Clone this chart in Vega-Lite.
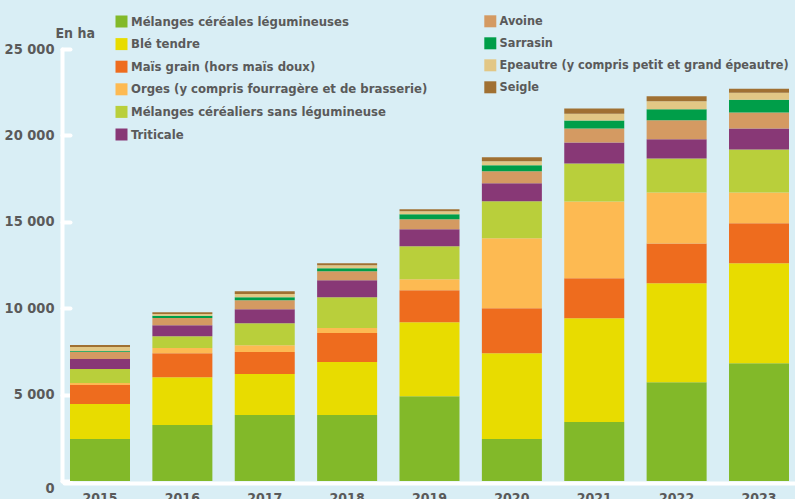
{
  "$schema": "https://vega.github.io/schema/vega-lite/v6.json",
  "width": 731,
  "height": 432,
  "autosize": {"type": "none"},
  "padding": {"left": 64, "top": 49, "right": 0, "bottom": 18},
  "background": "#d9eef5",
  "datasets": {
    "cultures": [
      {"culture": "Mélanges céréales légumineuses", "ordre": 1, "colonne": 1},
      {"culture": "Blé tendre", "ordre": 2, "colonne": 1},
      {"culture": "Maïs grain (hors maïs doux)", "ordre": 3, "colonne": 1},
      {"culture": "Orges (y compris fourragère et de brasserie)", "ordre": 4, "colonne": 1},
      {"culture": "Mélanges céréaliers sans légumineuse", "ordre": 5, "colonne": 1},
      {"culture": "Triticale", "ordre": 6, "colonne": 1},
      {"culture": "Avoine", "ordre": 7, "colonne": 2},
      {"culture": "Sarrasin", "ordre": 8, "colonne": 2},
      {"culture": "Epeautre (y compris petit et grand épeautre)", "ordre": 9, "colonne": 2},
      {"culture": "Seigle", "ordre": 10, "colonne": 2}
    ],
    "surfaces": [
      {"annee": "2015", "culture": "Mélanges céréales légumineuses", "ha": 2430},
      {"annee": "2015", "culture": "Blé tendre", "ha": 2020},
      {"annee": "2015", "culture": "Maïs grain (hors maïs doux)", "ha": 1100},
      {"annee": "2015", "culture": "Orges (y compris fourragère et de brasserie)", "ha": 120},
      {"annee": "2015", "culture": "Mélanges céréaliers sans légumineuse", "ha": 810},
      {"annee": "2015", "culture": "Triticale", "ha": 580},
      {"annee": "2015", "culture": "Avoine", "ha": 420},
      {"annee": "2015", "culture": "Sarrasin", "ha": 50},
      {"annee": "2015", "culture": "Epeautre (y compris petit et grand épeautre)", "ha": 230},
      {"annee": "2015", "culture": "Seigle", "ha": 110},

      {"annee": "2016", "culture": "Mélanges céréales légumineuses", "ha": 3240},
      {"annee": "2016", "culture": "Blé tendre", "ha": 2770},
      {"annee": "2016", "culture": "Maïs grain (hors maïs doux)", "ha": 1390},
      {"annee": "2016", "culture": "Orges (y compris fourragère et de brasserie)", "ha": 290},
      {"annee": "2016", "culture": "Mélanges céréaliers sans légumineuse", "ha": 690},
      {"annee": "2016", "culture": "Triticale", "ha": 640},
      {"annee": "2016", "culture": "Avoine", "ha": 420},
      {"annee": "2016", "culture": "Sarrasin", "ha": 120},
      {"annee": "2016", "culture": "Epeautre (y compris petit et grand épeautre)", "ha": 100},
      {"annee": "2016", "culture": "Seigle", "ha": 110},

      {"annee": "2017", "culture": "Mélanges céréales légumineuses", "ha": 3820},
      {"annee": "2017", "culture": "Blé tendre", "ha": 2370},
      {"annee": "2017", "culture": "Maïs grain (hors maïs doux)", "ha": 1270},
      {"annee": "2017", "culture": "Orges (y compris fourragère et de brasserie)", "ha": 400},
      {"annee": "2017", "culture": "Mélanges céréaliers sans légumineuse", "ha": 1270},
      {"annee": "2017", "culture": "Triticale", "ha": 810},
      {"annee": "2017", "culture": "Avoine", "ha": 520},
      {"annee": "2017", "culture": "Sarrasin", "ha": 170},
      {"annee": "2017", "culture": "Epeautre (y compris petit et grand épeautre)", "ha": 190},
      {"annee": "2017", "culture": "Seigle", "ha": 160},

      {"annee": "2018", "culture": "Mélanges céréales légumineuses", "ha": 3820},
      {"annee": "2018", "culture": "Blé tendre", "ha": 3060},
      {"annee": "2018", "culture": "Maïs grain (hors maïs doux)", "ha": 1680},
      {"annee": "2018", "culture": "Orges (y compris fourragère et de brasserie)", "ha": 290},
      {"annee": "2018", "culture": "Mélanges céréaliers sans légumineuse", "ha": 1790},
      {"annee": "2018", "culture": "Triticale", "ha": 980},
      {"annee": "2018", "culture": "Avoine", "ha": 520},
      {"annee": "2018", "culture": "Sarrasin", "ha": 170},
      {"annee": "2018", "culture": "Epeautre (y compris petit et grand épeautre)", "ha": 170},
      {"annee": "2018", "culture": "Seigle", "ha": 120},

      {"annee": "2019", "culture": "Mélanges céréales légumineuses", "ha": 4910},
      {"annee": "2019", "culture": "Blé tendre", "ha": 4280},
      {"annee": "2019", "culture": "Maïs grain (hors maïs doux)", "ha": 1850},
      {"annee": "2019", "culture": "Orges (y compris fourragère et de brasserie)", "ha": 640},
      {"annee": "2019", "culture": "Mélanges céréaliers sans légumineuse", "ha": 1910},
      {"annee": "2019", "culture": "Triticale", "ha": 980},
      {"annee": "2019", "culture": "Avoine", "ha": 580},
      {"annee": "2019", "culture": "Sarrasin", "ha": 290},
      {"annee": "2019", "culture": "Epeautre (y compris petit et grand épeautre)", "ha": 170},
      {"annee": "2019", "culture": "Seigle", "ha": 120},

      {"annee": "2020", "culture": "Mélanges céréales légumineuses", "ha": 2430},
      {"annee": "2020", "culture": "Blé tendre", "ha": 4970},
      {"annee": "2020", "culture": "Maïs grain (hors maïs doux)", "ha": 2600},
      {"annee": "2020", "culture": "Orges (y compris fourragère et de brasserie)", "ha": 4050},
      {"annee": "2020", "culture": "Mélanges céréaliers sans légumineuse", "ha": 2140},
      {"annee": "2020", "culture": "Triticale", "ha": 1040},
      {"annee": "2020", "culture": "Avoine", "ha": 690},
      {"annee": "2020", "culture": "Sarrasin", "ha": 350},
      {"annee": "2020", "culture": "Epeautre (y compris petit et grand épeautre)", "ha": 230},
      {"annee": "2020", "culture": "Seigle", "ha": 230},

      {"annee": "2021", "culture": "Mélanges céréales légumineuses", "ha": 3410},
      {"annee": "2021", "culture": "Blé tendre", "ha": 6010},
      {"annee": "2021", "culture": "Maïs grain (hors maïs doux)", "ha": 2310},
      {"annee": "2021", "culture": "Orges (y compris fourragère et de brasserie)", "ha": 4450},
      {"annee": "2021", "culture": "Mélanges céréaliers sans légumineuse", "ha": 2200},
      {"annee": "2021", "culture": "Triticale", "ha": 1210},
      {"annee": "2021", "culture": "Avoine", "ha": 810},
      {"annee": "2021", "culture": "Sarrasin", "ha": 460},
      {"annee": "2021", "culture": "Epeautre (y compris petit et grand épeautre)", "ha": 400},
      {"annee": "2021", "culture": "Seigle", "ha": 290},

      {"annee": "2022", "culture": "Mélanges céréales légumineuses", "ha": 5720},
      {"annee": "2022", "culture": "Blé tendre", "ha": 5720},
      {"annee": "2022", "culture": "Maïs grain (hors maïs doux)", "ha": 2310},
      {"annee": "2022", "culture": "Orges (y compris fourragère et de brasserie)", "ha": 2950},
      {"annee": "2022", "culture": "Mélanges céréaliers sans légumineuse", "ha": 1970},
      {"annee": "2022", "culture": "Triticale", "ha": 1100},
      {"annee": "2022", "culture": "Avoine", "ha": 1100},
      {"annee": "2022", "culture": "Sarrasin", "ha": 640},
      {"annee": "2022", "culture": "Epeautre (y compris petit et grand épeautre)", "ha": 460},
      {"annee": "2022", "culture": "Seigle", "ha": 290},

      {"annee": "2023", "culture": "Mélanges céréales légumineuses", "ha": 6820},
      {"annee": "2023", "culture": "Blé tendre", "ha": 5780},
      {"annee": "2023", "culture": "Maïs grain (hors maïs doux)", "ha": 2310},
      {"annee": "2023", "culture": "Orges (y compris fourragère et de brasserie)", "ha": 1790},
      {"annee": "2023", "culture": "Mélanges céréaliers sans légumineuse", "ha": 2490},
      {"annee": "2023", "culture": "Triticale", "ha": 1210},
      {"annee": "2023", "culture": "Avoine", "ha": 920},
      {"annee": "2023", "culture": "Sarrasin", "ha": 750},
      {"annee": "2023", "culture": "Epeautre (y compris petit et grand épeautre)", "ha": 400},
      {"annee": "2023", "culture": "Seigle", "ha": 230}
    ]
  },
  "data": {"name": "surfaces"},
  "transform": [
    {"lookup": "culture", "from": {"data": {"name": "cultures"}, "key": "culture", "fields": ["ordre", "colonne"]}},
    {"stack": "ha", "groupby": ["annee"], "sort": [{"field": "ordre", "order": "ascending"}], "as": ["v0", "v1"]}
  ],
  "encoding": {
    "x": {
      "field": "annee", "type": "nominal", "sort": null,
      "scale": {"paddingInner": 0.2716, "paddingOuter": 0.0728},
      "axis": {
        "title": null, "ticks": false, "labelAngle": 0,
        "domainColor": "#ffffff", "domainWidth": 4, "domainCap": "round", "offset": 2,
        "labelPadding": 8, "labelFontSize": 14
      }
    },
    "y": {
      "field": "v0", "type": "quantitative",
      "scale": {"domain": [0, 25000], "nice": false},
      "axis": {
        "title": "En ha", "titleAngle": 0, "titleAlign": "left", "titleBaseline": "alphabetic",
        "titleX": -7, "titleY": -12, "titleFontSize": 14,
        "values": [0, 5000, 10000, 15000, 20000, 25000],
        "labelExpr": "replace(format(datum.value, ','), ',', ' ')",
        "grid": false, "offset": 2,
        "domainColor": "#ffffff", "domainWidth": 4, "domainCap": "round",
        "tickColor": "#ffffff", "tickWidth": 4, "tickSize": -8, "tickCap": "round",
        "labelPadding": 16, "labelFontSize": 14.5,
        "labelBaseline": {"condition": {"test": "datum.value == 0", "value": "top"}, "value": "middle"}
      }
    },
    "y2": {"field": "v1"}
  },
  "layer": [
    {
      "transform": [{"filter": "datum.colonne == 1"}],
      "mark": {"type": "bar"},
      "encoding": {
        "color": {
          "field": "culture", "type": "nominal",
          "scale": {
            "domain": ["Mélanges céréales légumineuses", "Blé tendre", "Maïs grain (hors maïs doux)", "Orges (y compris fourragère et de brasserie)", "Mélanges céréaliers sans légumineuse", "Triticale"],
            "range": ["#82b929", "#e8dc00", "#ee6c1e", "#fdba52", "#b9cf3b", "#883876"]
          },
          "legend": {"orient": "none", "legendX": 51, "legendY": -34, "title": null, "labelFontSize": 13, "rowPadding": 8.6}
        }
      }
    },
    {
      "transform": [{"filter": "datum.colonne == 2"}],
      "mark": {"type": "bar"},
      "encoding": {
        "color": {
          "field": "culture", "type": "nominal",
          "scale": {
            "domain": ["Avoine", "Sarrasin", "Epeautre (y compris petit et grand épeautre)", "Seigle"],
            "range": ["#d49a62", "#009e49", "#e2c785", "#a07032"]
          },
          "legend": {"orient": "none", "legendX": 420, "legendY": -34, "title": null, "labelFontSize": 12.6, "rowPadding": 9}
        }
      }
    }
  ],
  "resolve": {"scale": {"color": "independent"}},
  "config": {
    "view": {"stroke": null},
    "font": "DejaVu Sans Condensed, sans-serif",
    "axis": {
      "labelColor": "#5a5a5a", "labelFontWeight": "bold",
      "titleColor": "#5a5a5a", "titleFontWeight": "bold",
      "labelFont": "DejaVu Sans Condensed, sans-serif",
      "titleFont": "DejaVu Sans Condensed, sans-serif"
    },
    "legend": {
      "padding": 0,
      "symbolType": "square", "symbolSize": 144, "symbolStrokeWidth": 0, "symbolOpacity": 1,
      "labelFontSize": 13, "labelFontWeight": "bold", "labelColor": "#5a5a5a",
      "labelFont": "DejaVu Sans Condensed, sans-serif",
      "labelOffset": 3, "rowPadding": 8.6, "labelLimit": 500
    }
  }
}
